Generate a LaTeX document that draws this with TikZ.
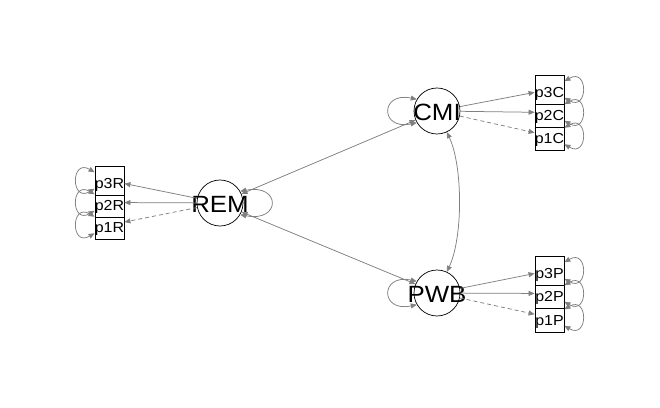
\documentclass[tikz,border=0pt]{standalone}
\usepackage{fontspec}
\setmainfont{Liberation Sans}
\usetikzlibrary{arrows.meta}
\definecolor{edgegray}{RGB}{128,128,128}
% zero-width, horizontally stretched label text
\newcommand{\semlabel}[2]{\makebox[0pt]{\scalebox{#1}[1]{#2}}}
\begin{document}
\begin{tikzpicture}[x=1pt,y=1pt,
  >={Triangle[length=6pt,width=5pt]},
  latent/.style={circle, draw=black, line width=0.7pt, fill=white,
    minimum size=46pt, inner sep=0pt, text height=18.5pt, text depth=0pt,
    font=\fontsize{23.5}{23.5}\selectfont},
  manifest/.style={rectangle, draw=black, line width=0.8pt, fill=white,
    minimum width=29pt, minimum height=29pt, inner sep=0pt,
    text height=15.3pt, text depth=0pt,
    font=\fontsize{14.5}{14.5}\selectfont},
  loading/.style={draw=edgegray, line width=0.75pt, ->},
  fixedload/.style={loading, dash pattern=on 4pt off 3pt},
  covar/.style={draw=edgegray, line width=0.75pt, <->}
]
\fill[white] (0,0) rectangle (660,407);
\useasboundingbox (0,0) rectangle (660,407);

% latent variables
\node[latent] (REM) at (220,204) {\semlabel{1.1}{REM}};
\node[latent] (CMI) at (437,296) {\semlabel{1.1}{CMI}};
\node[latent] (PWB) at (437,114) {\semlabel{1.1}{PWB}};

% indicators of REM (stacked, upper box drawn last)
\node[manifest] (p1R) at (109.5,182)   {\semlabel{1.1}{p1R}};
\node[manifest] (p2R) at (109.5,204.5) {\semlabel{1.1}{p2R}};
\node[manifest] (p3R) at (109.5,226.5) {\semlabel{1.1}{p3R}};

% indicators of CMI
\node[manifest] (p1C) at (549.5,271)   {\semlabel{1.1}{p1C}};
\node[manifest] (p2C) at (549.5,294.5) {\semlabel{1.1}{p2C}};
\node[manifest] (p3C) at (549.5,317.5) {\semlabel{1.1}{p3C}};

% indicators of PWB
\node[manifest] (p1P) at (549.5,89.5)  {\semlabel{1.1}{p1P}};
\node[manifest] (p2P) at (549.5,113.5) {\semlabel{1.1}{p2P}};
\node[manifest] (p3P) at (549.5,136.5) {\semlabel{1.1}{p3P}};

% factor loadings (first loading fixed, dashed)
\draw[loading]   (REM) -- (p3R);
\draw[loading]   (REM) -- (p2R);
\draw[fixedload] (REM) -- (p1R);
\draw[loading]   (CMI) -- (p3C);
\draw[loading]   (CMI) -- (p2C);
\draw[fixedload] (CMI) -- (p1C);
\draw[loading]   (PWB) -- (p3P);
\draw[loading]   (PWB) -- (p2P);
\draw[fixedload] (PWB) -- (p1P);

% covariances between latents
\draw[covar] (REM) -- (CMI);
\draw[covar] (REM) -- (PWB);
\draw[covar] (CMI) to[out=-65,in=65,looseness=0.7] (PWB);

% latent variances
\draw[covar] (REM.30)  .. controls +(41,8)  and +(41,-8)  .. (REM.-30);
\draw[covar] (CMI.150) .. controls +(-37,8) and +(-37,-8) .. (CMI.210);
\draw[covar] (PWB.150) .. controls +(-37,8) and +(-37,-8) .. (PWB.210);

% residual variances of the indicators
\foreach \n in {p1R,p2R,p3R}
  \draw[covar] (\n.151) .. controls +(-24,14) and +(-24,-14) .. (\n.209);
\foreach \n in {p1C,p2C,p3C,p1P,p2P,p3P}
  \draw[covar] (\n.29) .. controls +(24,14) and +(24,-14) .. (\n.-29);
\end{tikzpicture}
\end{document}
